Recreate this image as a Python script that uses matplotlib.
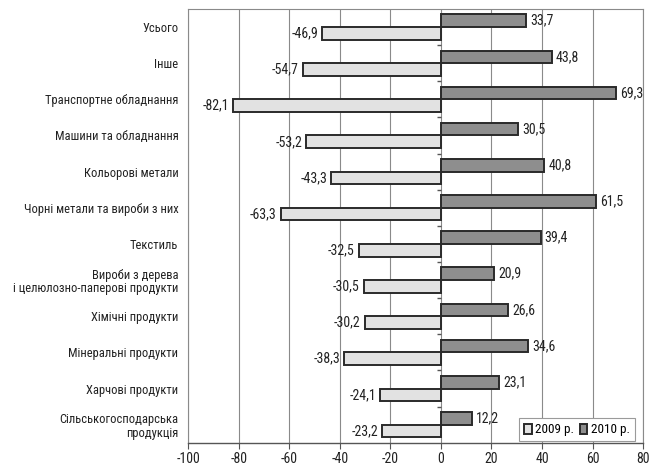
import matplotlib
matplotlib.use("Agg")
import matplotlib.pyplot as plt
from matplotlib.patches import Patch
from matplotlib.lines import TICKLEFT

plt.rcParams['font.family'] = ['DejaVu Sans Condensed', 'Noto Sans Condensed',
                               'Roboto Condensed', 'DejaVu Sans']
plt.rcParams['font.stretch'] = 'condensed'

categories = [
    "Усього",
    "Інше",
    "Транспортне обладнання",
    "Машини та обладнання",
    "Кольорові метали",
    "Чорні метали та вироби з них",
    "Текстиль",
    "Вироби з дерева\nі целюлозно-паперові продукти",
    "Хімічні продукти",
    "Мінеральні продукти",
    "Харчові продукти",
    "Сільськогосподарська\nпродукція",
]
values_2009 = [-46.9, -54.7, -82.1, -53.2, -43.3, -63.3, -32.5, -30.5, -30.2, -38.3, -24.1, -23.2]
values_2010 = [33.7, 43.8, 69.3, 30.5, 40.8, 61.5, 39.4, 20.9, 26.6, 34.6, 23.1, 12.2]
series_labels = ["2009 р.", "2010 р."]
x_ticks = [-100, -80, -60, -40, -20, 0, 20, 40, 60, 80]

color_2009 = "#e2e2e2"
color_2010 = "#8e8e8e"
edge = "#2a2a2a"

fig = plt.figure(figsize=(6.53, 4.71), dpi=100)
ax = fig.add_axes([0.288, 0.06, 0.697, 0.921])

n = len(categories)
pos = list(range(n))
h = 0.35

ax.set_xlim(-100, 80)
ax.set_ylim(n - 0.5, -0.5)

for x in x_ticks:
    ax.axvline(x, color="#8a8a8a", lw=0.8, zorder=0)

ax.barh([p - h / 2 for p in pos], values_2010, height=h,
        color=color_2010, edgecolor=edge, linewidth=1.4, zorder=3)
ax.barh([p + h / 2 for p in pos], values_2009, height=h,
        color=color_2009, edgecolor=edge, linewidth=1.4, zorder=3)

def fmt(v):
    return f"{v:.1f}".replace(".", ",")

for p, v in zip(pos, values_2010):
    ax.annotate(fmt(v), (v, p - h / 2), xytext=(3, 0), textcoords="offset points",
                ha="left", va="center", fontsize=10, color="#222222", zorder=4)
for p, v in zip(pos, values_2009):
    ax.annotate(fmt(v), (v, p + h / 2), xytext=(-3, 0), textcoords="offset points",
                ha="right", va="center", fontsize=10, color="#222222", zorder=4)

# category separators on the zero axis
bounds = [p + 0.5 for p in pos[:-1]]
ax.plot([0] * len(bounds), bounds, linestyle="none", marker=TICKLEFT,
        markersize=3, color="#555555", zorder=4)

ax.set_yticks(pos)
ax.set_yticklabels(categories, fontsize=9, color="#222222", linespacing=1.05,
                   multialignment="right")
ax.tick_params(axis="y", length=0, pad=7)
ax.set_xticks(x_ticks)
ax.set_xticklabels([str(t) for t in x_ticks], fontsize=10, color="#222222")
ax.tick_params(axis="x", length=4, color="#555555", pad=3)

for s in ["top", "right", "left"]:
    ax.spines[s].set_color("#8a8a8a")
    ax.spines[s].set_linewidth(0.8)
ax.spines["bottom"].set_color("#555555")
ax.spines["bottom"].set_linewidth(1.0)

handles = [Patch(facecolor=color_2009, edgecolor=edge, linewidth=1.4),
           Patch(facecolor=color_2010, edgecolor=edge, linewidth=1.4)]
leg = ax.legend(handles, series_labels, loc="lower right", ncol=2,
                bbox_to_anchor=(0.982, 0.003), fontsize=9.5,
                handlelength=0.6, handleheight=0.8, handletextpad=0.25,
                columnspacing=0.4, borderpad=0.4, borderaxespad=0,
                fancybox=False, framealpha=1, edgecolor="#9a9a9a")
leg.get_frame().set_linewidth(0.8)

fig.savefig("out.png", dpi=100)
